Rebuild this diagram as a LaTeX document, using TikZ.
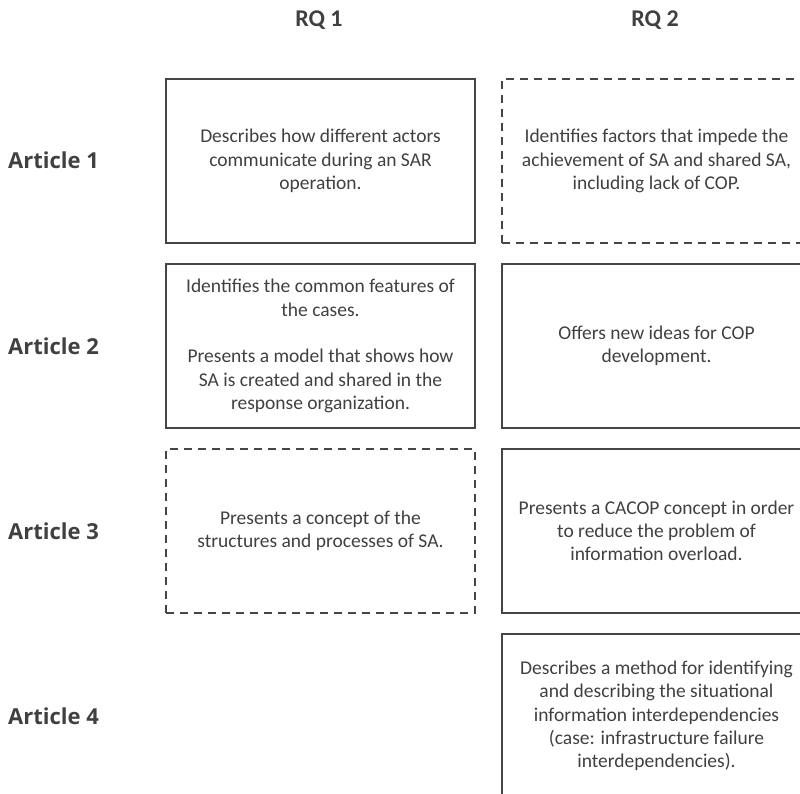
\documentclass[tikz,border=0pt]{standalone}
\usepackage{fontspec}
\setmainfont{Carlito}
\newfontfamily\labelfont{Open Sans}
\begin{document}
\begin{tikzpicture}[x=1pt,y=-1pt,
  cell/.style={draw=boxgray, line width=2pt, minimum width=309pt, minimum height=164pt,
    inner sep=0pt, text=textgray, align=center, font=\fontsize{19.5}{23.3}\selectfont, anchor=north west},
  dashcell/.style={cell, dash pattern=on 8pt off 6pt},
  rowlabel/.style={text=textgray, anchor=base west, inner sep=0pt, font=\labelfont\bfseries\fontsize{22}{26}\selectfont},
  collabel/.style={text=textgray, anchor=base, inner sep=0pt, font=\bfseries\fontsize{24}{28}\selectfont}]
\definecolor{boxgray}{HTML}{454545}
\definecolor{textgray}{HTML}{404040}
\useasboundingbox (0,0) rectangle (800,794);
\clip (0,0) rectangle (800,794);
% column headings
\node[collabel] (rq1) at (319,27) {RQ 1};
\node[collabel] (rq2) at (655,27) {RQ 2};
% row headings
\node[rowlabel] (a1) at (8,169) {Article 1};
\node[rowlabel] (a2) at (8,354) {Article 2};
\node[rowlabel] (a3) at (8,539) {Article 3};
\node[rowlabel] (a4) at (8,724) {Article 4};
% article 1
\node[cell] (c11) at (165,78) {Describes how different actors\\communicate during an SAR\\operation.};
\node[dashcell] (c12) at (501,78) {Identifies factors that impede the\\achievement of SA and shared SA,\\including lack of COP.};
% article 2
\node[cell] (c21) at (165,263) {Identifies the common features of\\the cases.\\[23.3pt]Presents a model that shows how\\SA is created and shared in the\\response organization.};
\node[cell] (c22) at (501,263) {Offers new ideas for COP\\development.};
% article 3
\node[dashcell] (c31) at (165,448) {Presents a concept of the\\structures and processes of SA.};
\node[cell] (c32) at (501,448) {Presents a CACOP concept in order\\to reduce the problem of\\information overload.};
% article 4
\node[cell] (c42) at (501,633) {Describes a method for identifying\\and describing the situational\\information interdependencies\\(case: infrastructure failure\\interdependencies).};
\end{tikzpicture}
\end{document}
